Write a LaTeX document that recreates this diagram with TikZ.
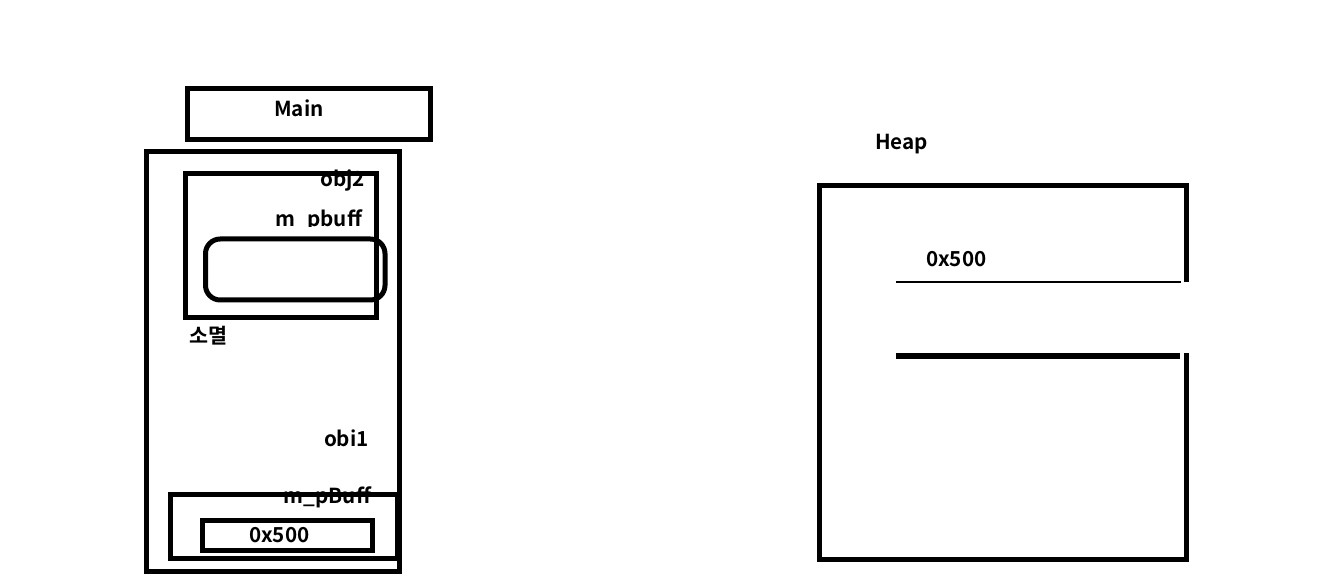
\documentclass[tikz,border=0pt]{standalone}
\usepackage{fontspec}
\setmainfont{Noto Sans CJK KR}[BoldFont={* Bold}]
\begin{document}
\begin{tikzpicture}[x=0.75pt,y=-0.75pt,
  lbl/.style={font=\fontsize{15.5}{18}\selectfont\bfseries, inner sep=0pt, outer sep=0pt},
  thick box/.style={draw=black, line width=3.75pt},
  thin line/.style={draw=black, line width=1.1pt}]
\useasboundingbox (0,0) rectangle (1335,584);
% texts
\node[lbl, anchor=base] (tmain) at (299,117) {Main};
\node[lbl, anchor=base east] (tobj2) at (365,187) {obj2};
\begin{scope}
  \clip (250,190) rectangle (380,226.6);
  \node[lbl, anchor=base east] (tpbuff) at (362,226.6) {m\_pbuff};
\end{scope}
\node[lbl, anchor=center] (tsm) at (208.5,336) {소멸};
\node[lbl, anchor=base west] (tobi) at (324,446.5) {obi1};
\node[lbl, anchor=base east] (tpBuff) at (371,503) {m\_pBuff};
\node[lbl, anchor=base west] (taddr1) at (249,542.5) {0x500};
\node[lbl, anchor=base west] (theap) at (875,150) {Heap};
\node[lbl, anchor=base west] (taddr2) at (926,267) {0x500};
% stack side
\draw[thick box] (187,88.5) rectangle (430.5,139.5);
\draw[thick box] (146.5,152) rectangle (399.5,571);
\draw[thick box] (185.5,174) rectangle (376.5,317.5);
\draw[thick box, rounded corners=11pt] (205.5,239) rectangle (385,300);
\draw[thick box] (170.5,494) rectangle (397.5,558.5);
\draw[thick box] (202.5,520.5) rectangle (372.5,550.5);
% heap side
\coordinate (h1) at (1186,282.5);
\coordinate (h2) at (1186,353);
\draw[thick box] (h1) -- (1186,186) -- (819.5,186) -- (819.5,559) -- (1186,559) -- (h2);
\draw[thin line] (896,282) -- (1181,282);
\draw[thick box, line width=3.9pt] (896,356) -- (1180,356);
\end{tikzpicture}
\end{document}
